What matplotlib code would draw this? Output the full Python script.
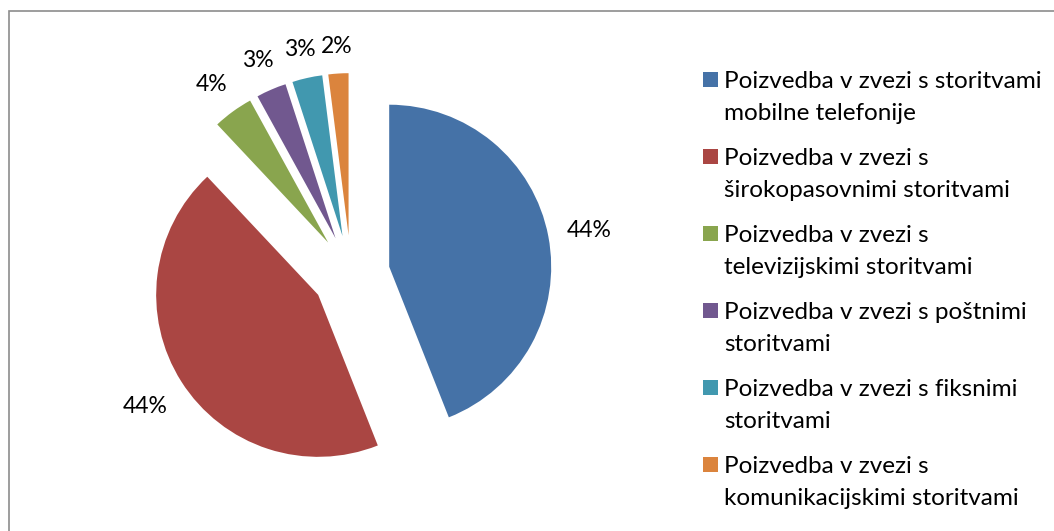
import numpy as np
import matplotlib.pyplot as plt
from matplotlib.patches import Rectangle

labels = [
    "Poizvedba v zvezi s storitvami\nmobilne telefonije",
    "Poizvedba v zvezi s\nširokopasovnimi storitvami",
    "Poizvedba v zvezi s\ntelevizijskimi storitvami",
    "Poizvedba v zvezi s poštnimi\nstoritvami",
    "Poizvedba v zvezi s fiksnimi\nstoritvami",
    "Poizvedba v zvezi s\nkomunikacijskimi storitvami",
]
shares = [44, 44, 4, 3, 3, 2]
colors = ["#4572A7", "#AA4643", "#89A54E", "#71588F", "#4198AF", "#DB843D"]

plt.rcParams['font.family'] = ['Lato', 'DejaVu Sans']

W, H = 1054, 531
fig = plt.figure(figsize=(W / 100, H / 100), dpi=100)

# chart border (only top/left visible in the crop)
fig.patches.append(Rectangle((9 / W, -0.1), 1.2, (H - 10.5) / H + 0.1,
                             transform=fig.transFigure, fill=False,
                             edgecolor="#8c8c8c", linewidth=1.2))

# pie axes: centre at (351, 274) px from top-left, radius 162 px
R = 162
cx, cy = 351, 274
half = 250
ax = fig.add_axes([(cx - half) / W, (H - cy - half) / H, 2 * half / W, 2 * half / H])
wedges, _ = ax.pie(shares, colors=colors, startangle=90, counterclock=False,
                   explode=[0.24] * len(shares),
                   wedgeprops=dict(linewidth=0))
ax.set_xlim(-half / R, half / R)
ax.set_ylim(-half / R, half / R)
ax.set_aspect('equal')
ax.axis('off')

# percentage labels placed "outside end" like the original
total = sum(shares)
renderer = fig.canvas.get_renderer()
gap = 18 / R
for w, v in zip(wedges, shares):
    ang = np.deg2rad((w.theta1 + w.theta2) / 2)
    dx, dy = np.cos(ang), np.sin(ang)
    t = ax.text(0, 0, f"{v / total * 100:.0f}%", ha='center', va='center_baseline',
                fontsize=16.5, color="#000000")
    bb = t.get_window_extent(renderer)
    ext = (bb.width / 2 * abs(dx) + bb.height / 2 * abs(dy)) / R
    d = 1 + gap + ext
    t.set_position((w.center[0] + d * dx, w.center[1] + d * dy))

# legend drawn by hand
y0 = 88
for i, (lab, col) in enumerate(zip(labels, colors)):
    base = y0 + i * 77
    fig.patches.append(Rectangle((703 / W, (H - base + 1) / H), 15 / W, 15 / H,
                                 transform=fig.transFigure, facecolor=col,
                                 edgecolor='none'))
    for j, line in enumerate(lab.split("\n")):
        fig.text(724 / W, (H - base - j * 32) / H, line, fontsize=17.5,
                 va='baseline', ha='left', color="#000000")

fig.savefig("out.png", dpi=100)
